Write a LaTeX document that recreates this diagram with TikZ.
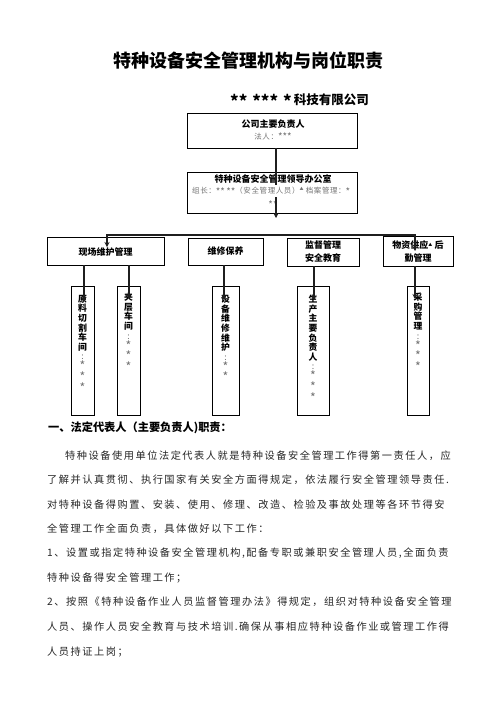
\documentclass[tikz,border=0pt]{standalone}
\usepackage{fontspec}
\setmainfont{Noto Sans CJK SC}
\newfontfamily\bodyfont{Noto Sans CJK SC}[LetterSpace=15]
\newfontfamily\subfont{Noto Sans CJK SC}[LetterSpace=8]
\usetikzlibrary{arrows.meta,calc}
\newcommand\gry[1]{{\mdseries\color{black!55}#1}}
\newcommand\sk{\raisebox{-0.4ex}{\scalebox{1.3}{*}}}
\newcommand\vsk{\scalebox{1.4}{*}}
\newcommand\tri{\raisebox{2.5pt}{\fontsize{4}{4}\selectfont ▲}}
\tikzset{
 box/.style={draw=black, line width=0.8pt, inner sep=0pt, outer sep=0pt, rectangle},
 conn/.style={draw=black!88, line width=2.2pt},
 arr/.style={conn, -{Stealth[length=5pt,width=5pt]}},
 lbl/.style={font=\bfseries\fontsize{9}{12.5}\selectfont, align=center, inner sep=0pt},
 sub/.style={font=\subfont\fontsize{7.5}{9}\selectfont, text=black!55, inner sep=0pt},
 vtxt/.style={font=\bfseries\fontsize{8.8}{9.6}\selectfont, align=center, inner sep=0pt, anchor=north},
 bodyline/.style={font=\bodyfont\fontsize{10.2}{12}\selectfont, text=black!85, anchor=west, inner sep=0pt},
}
\begin{document}
\begin{tikzpicture}[x=1pt,y=-1pt]
\useasboundingbox (0,0) rectangle (496,702);
\fill[white] (0,0) rectangle (496,702);

% title
\node[font=\bfseries\fontsize{18}{20}\selectfont, inner sep=0pt] (title) at (248,61) {特种设备安全管理机构与岗位职责};
\node[font=\bfseries\fontsize{12.5}{14}\selectfont, inner sep=0pt] (company) at (299.5,101) {\sk\sk\,\ \sk\sk\sk\,\ \sk\,科技有限公司};

% boxes
\node[box, minimum width=170pt, minimum height=35pt] (b1) at (272,130.5) {};
\node[box, minimum width=170pt, minimum height=41pt] (b2) at (272,192.5) {};
\node[box, minimum width=117pt, minimum height=28pt] (bA) at (105.5,251) {};
\node[box, minimum width=75pt, minimum height=27pt] (bB) at (225.5,251.5) {};
\node[box, minimum width=72pt, minimum height=28pt] (bC) at (323,252) {};
\node[box, minimum width=70pt, minimum height=30pt] (bD) at (418,251) {};
\node[box, minimum width=23pt, minimum height=129pt] (tE) at (82.5,350.5) {};
\node[box, minimum width=23pt, minimum height=129pt] (tF) at (128.5,350.5) {};
\node[box, minimum width=27pt, minimum height=129pt] (tG) at (225.5,350.5) {};
\node[box, minimum width=32pt, minimum height=129pt] (tH) at (313,350.5) {};
\node[box, minimum width=22pt, minimum height=129pt] (tI) at (418,350.5) {};

% box texts
\node[lbl] (b1t) at (273,124) {公司主要负责人};
\node[sub] (b1s) at (273,137) {法人：\sk\sk\sk};
\node[lbl] (b2t) at (273,179) {特种设备安全管理领导办公室};
\node[sub] (b2u) at (273,205) {\sk\sk};
\node[lbl] (bAt) at (105.5,252) {现场维护管理};
\node[lbl] (bBt) at (225.5,251.5) {维修保养};
\node[lbl] (bCt) at (323,251.5) {监督管理\\安全教育};
\node[lbl] (bDt) at (418,251.5) {物资供应\tri{} 后\\勤管理};

\node[vtxt] (vE) at (82.5,295) {原\\料\\切\\割\\车\\间\\\gry{:}\\\gry{\vsk}\\\gry{\vsk}\\\gry{\vsk}};
\node[vtxt] (vF) at (128.5,293) {夹\\层\\车\\间\\\gry{:}\\\gry{\vsk}\\\gry{\vsk}\\\gry{\vsk}};
\node[vtxt] (vG) at (225.5,295) {设\\备\\维\\修\\维\\护\\\gry{:}\\\gry{\vsk}\\\gry{\vsk}};
\node[vtxt] (vH) at (313,295) {生\\产\\主\\要\\负\\责\\人\\\gry{:}\\\gry{\vsk}\\\gry{\vsk}\\\gry{\vsk}};
\node[vtxt] (vI) at (418,293) {采\\购\\管\\理\\\gry{:}\\\gry{\vsk}\\\gry{\vsk}\\\gry{\vsk}};

% connectors
\coordinate (k1) at (276,218);
\draw[arr] (k1 |- b1.south) -- (k1);
\coordinate (hl) at (107,235);
\coordinate (hr) at (415,235);
\draw[conn, line cap=rect] (hl) -- (hr);
\coordinate (kA) at (107,247);
\coordinate (kD) at (415,251);
\draw[arr] (hl) -- (kA);
\draw[arr] (hr) -- (kD);
\coordinate (eE) at (84,302);
\coordinate (eF) at (129,299);
\coordinate (eG) at (224,300);
\coordinate (eH) at (314,300);
\coordinate (eI) at (415,299);
\draw[arr] (eE |- bA.south) -- (eE);
\draw[arr] (eF |- bA.south) -- (eF);
\draw[arr] (eG |- bB.south) -- (eG);
\draw[arr] (eH |- bC.south) -- (eH);
\draw[arr] (eI |- bD.south) -- (eI);

% box2 second line (covers the connector)
\node[sub, anchor=west, fill=white, inner ysep=1.5pt] (b2s) at (192,191) {组长：\sk\sk\,\sk\sk（安全管理人员）\tri{} 档案管理：\sk};

% text section
\node[font=\bfseries\fontsize{11.2}{13}\selectfont, anchor=west, inner sep=0pt] (h1) at (48,428) {一、法定代表人（主要负责人)职责：};
\node[bodyline] (l1) at (65,456) {特种设备使用单位法定代表人就是特种设备安全管理工作得第一责任人，应};
\node[bodyline] (l2) at (47,480) {了解并认真贯彻、执行国家有关安全方面得规定，依法履行安全管理领导责任.};
\node[bodyline] (l3) at (47,505) {对特种设备得购置、安装、使用、修理、改造、检验及事故处理等各环节得安};
\node[bodyline] (l4) at (47,529) {全管理工作全面负责，具体做好以下工作：};
\node[bodyline] (l5) at (47,553) {1、设置或指定特种设备安全管理机构,配备专职或兼职安全管理人员,全面负责};
\node[bodyline] (l6) at (47,578) {特种设备得安全管理工作；};
\node[bodyline] (l7) at (47,602) {2、按照《特种设备作业人员监督管理办法》得规定，组织对特种设备安全管理};
\node[bodyline] (l8) at (47,627) {人员、操作人员安全教育与技术培训.确保从事相应特种设备作业或管理工作得};
\node[bodyline] (l9) at (47,652) {人员持证上岗；};
\end{tikzpicture}
\end{document}
